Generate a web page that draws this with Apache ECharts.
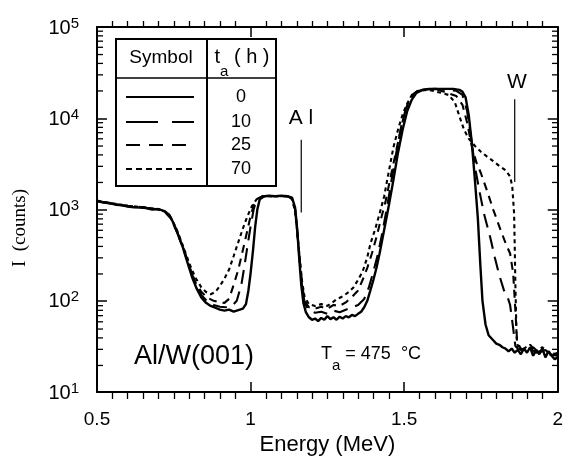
<!DOCTYPE html>
<html>
<head>
<meta charset="utf-8">
<script src="https://cdn.jsdelivr.net/npm/echarts@6/dist/echarts.min.js"></script>
<style>
  html, body { margin: 0; padding: 0; background: #ffffff; }
  #chart, #ticks { width: 566px; height: 461px; position: absolute; left: 0; top: 0; }
  #ticks { pointer-events: none; }
</style>
</head>
<body>
<div id="chart"></div>
<div id="ticks"></div>
<script>
// axis ticks
const xTicks = [0.5, 1, 1.5, 2]
const xTickLabels = ['0.5', '1', '1.5', '2']
const yExponents = [1, 2, 3, 4, 5]
const yMinorMultipliers = [2, 3, 4, 5, 6, 7, 8, 9]

// t_a = 0 h (solid)
const energy0 = [0.5, 0.52, 0.54, 0.56, 0.58, 0.6, 0.62, 0.64, 0.66, 0.68, 0.7, 0.72, 0.735, 0.75, 0.765, 0.78, 0.795, 0.81, 0.825, 0.84, 0.855, 0.87, 0.885, 0.9, 0.915, 0.93, 0.945, 0.96, 0.975, 0.985, 0.993, 1.0, 1.008, 1.015, 1.022, 1.03, 1.045, 1.06, 1.08, 1.1, 1.12, 1.135, 1.145, 1.152, 1.158, 1.165, 1.172, 1.18, 1.19, 1.2, 1.21, 1.22, 1.23, 1.24, 1.25, 1.26, 1.27, 1.28, 1.29, 1.3, 1.31, 1.32, 1.33, 1.34, 1.35, 1.36, 1.37, 1.38, 1.39, 1.4, 1.41, 1.42, 1.435, 1.45, 1.465, 1.48, 1.495, 1.51, 1.525, 1.54, 1.56, 1.58, 1.6, 1.62, 1.64, 1.66, 1.68, 1.69, 1.7, 1.71, 1.72, 1.73, 1.74, 1.748, 1.755, 1.765, 1.775, 1.79, 1.8, 1.81, 1.82, 1.83, 1.84, 1.85, 1.86, 1.87, 1.88, 1.89, 1.9, 1.91, 1.92, 1.93, 1.94, 1.95, 1.96, 1.97, 1.98, 1.99, 2.0]
const counts0 = [1250, 1200, 1180, 1130, 1120, 1080, 1060, 1050, 1040, 1000, 1010, 960, 880, 700, 520, 380, 260, 180, 135, 108, 95, 88, 84, 80, 78, 80, 76, 79, 82, 92, 130, 200, 360, 650, 1000, 1300, 1400, 1420, 1400, 1420, 1400, 1350, 1050, 600, 300, 150, 95, 75, 66, 62, 64, 60, 65, 62, 68, 63, 66, 62, 67, 64, 68, 66, 70, 68, 72, 76, 85, 100, 130, 170, 230, 330, 600, 1100, 2100, 4200, 7500, 12000, 16000, 19000, 20500, 21000, 21000, 21000, 21000, 21000, 20500, 19500, 17000, 11000, 5500, 2200, 800, 250, 100, 55, 42, 37, 34, 33, 31, 30, 28, 30, 27, 29, 26, 30, 27, 31, 25, 29, 26, 30, 24, 28, 25, 23, 24]

// t_a = 10 h (long dash)
const energy10 = [0.5, 0.55, 0.6, 0.65, 0.7, 0.72, 0.74, 0.76, 0.78, 0.8, 0.82, 0.84, 0.86, 0.88, 0.9, 0.92, 0.94, 0.955, 0.97, 0.98, 0.99, 1.0, 1.01, 1.02, 1.04, 1.08, 1.12, 1.135, 1.145, 1.152, 1.16, 1.168, 1.176, 1.19, 1.21, 1.23, 1.25, 1.27, 1.29, 1.31, 1.33, 1.35, 1.37, 1.385, 1.4, 1.415, 1.43, 1.445, 1.46, 1.475, 1.49, 1.505, 1.52, 1.54, 1.56, 1.6, 1.64, 1.67, 1.69, 1.705, 1.72, 1.73, 1.745, 1.76, 1.78, 1.795, 1.81, 1.825, 1.835, 1.845, 1.855, 1.862, 1.87, 1.89, 1.91, 1.93, 1.95, 1.97, 2.0]
const counts10 = [1230, 1150, 1090, 1050, 1000, 950, 820, 580, 390, 240, 155, 115, 98, 90, 86, 85, 88, 100, 150, 240, 400, 650, 1000, 1300, 1400, 1400, 1400, 1330, 1000, 580, 280, 140, 95, 78, 74, 76, 72, 78, 75, 80, 84, 90, 105, 140, 210, 330, 580, 1100, 2200, 4300, 8000, 12500, 16500, 19500, 20500, 21000, 20500, 20000, 18000, 12000, 5500, 3000, 1600, 900, 500, 300, 190, 130, 115, 90, 50, 32, 30, 28, 30, 27, 29, 26, 25]

// t_a = 25 h (medium dash)
const energy25 = [0.5, 0.55, 0.6, 0.65, 0.7, 0.72, 0.74, 0.76, 0.78, 0.8, 0.82, 0.84, 0.86, 0.88, 0.9, 0.915, 0.93, 0.945, 0.96, 0.975, 0.99, 1.0, 1.01, 1.02, 1.04, 1.12, 1.135, 1.145, 1.152, 1.16, 1.168, 1.176, 1.19, 1.21, 1.23, 1.25, 1.27, 1.29, 1.31, 1.33, 1.35, 1.365, 1.38, 1.395, 1.41, 1.425, 1.44, 1.455, 1.47, 1.485, 1.5, 1.515, 1.53, 1.55, 1.6, 1.63, 1.65, 1.67, 1.69, 1.705, 1.72, 1.735, 1.75, 1.77, 1.79, 1.81, 1.83, 1.845, 1.855, 1.862, 1.868, 1.88, 1.9, 1.92, 1.94, 1.96, 1.98, 2.0]
const counts25 = [1240, 1160, 1100, 1060, 1000, 950, 800, 570, 380, 240, 160, 125, 108, 100, 96, 95, 105, 150, 220, 360, 600, 850, 1100, 1300, 1400, 1400, 1320, 1000, 580, 280, 150, 100, 85, 82, 86, 82, 90, 88, 96, 110, 130, 170, 230, 330, 500, 800, 1250, 2200, 3800, 6500, 11000, 15500, 18500, 20500, 21000, 19500, 18500, 17500, 14000, 9000, 5000, 3300, 2500, 1600, 1000, 650, 430, 330, 200, 80, 35, 30, 28, 31, 27, 29, 25, 27]

// t_a = 70 h (short dash)
const energy70 = [0.5, 0.55, 0.6, 0.65, 0.7, 0.72, 0.74, 0.76, 0.78, 0.8, 0.82, 0.84, 0.855, 0.87, 0.885, 0.9, 0.915, 0.93, 0.945, 0.96, 0.975, 0.99, 1.005, 1.02, 1.04, 1.12, 1.135, 1.145, 1.152, 1.16, 1.168, 1.176, 1.19, 1.21, 1.23, 1.25, 1.27, 1.28, 1.3, 1.32, 1.335, 1.35, 1.365, 1.38, 1.39, 1.405, 1.42, 1.435, 1.45, 1.465, 1.48, 1.495, 1.51, 1.525, 1.545, 1.58, 1.62, 1.645, 1.665, 1.68, 1.695, 1.71, 1.73, 1.75, 1.77, 1.79, 1.81, 1.83, 1.845, 1.852, 1.858, 1.86, 1.862, 1.864, 1.866, 1.87, 1.89, 1.91, 1.93, 1.95, 1.97, 2.0]
const counts70 = [1250, 1170, 1100, 1060, 1010, 960, 820, 600, 400, 260, 180, 140, 125, 118, 125, 145, 175, 220, 310, 440, 620, 850, 1100, 1300, 1400, 1400, 1300, 950, 560, 290, 160, 110, 92, 88, 92, 88, 98, 104, 112, 125, 140, 170, 210, 300, 420, 600, 900, 1400, 2600, 4800, 7500, 11000, 14500, 18000, 20000, 20500, 19000, 18000, 15000, 10500, 7500, 6000, 5000, 4300, 3800, 3400, 3000, 2700, 2300, 1800, 900, 400, 160, 80, 40, 32, 30, 33, 28, 31, 27, 26]

// element edge markers
const alMarker = [[1.165, 5800], [1.165, 930]]
const wMarker = [[1.86, 16200], [1.86, 2000]]

const zip = (xs, ys) => xs.map((x, i) => [x, ys[i]])

const font = 'Liberation Sans, Arial, Helvetica, sans-serif'
const serif = 'Liberation Serif, Times New Roman, serif'
const grid = { left: 97, right: 8, top: 27, bottom: 68 }

const baseX = {
  type: 'value',
  min: 0.5,
  max: 2,
  interval: 0.5,
  axisLine: { lineStyle: { color: '#000', width: 2 } },
  axisTick: { inside: true, length: 10, lineStyle: { color: '#000', width: 1.5 } },
  splitLine: { show: false },
}

const baseY = {
  type: 'log',
  logBase: 10,
  min: 10,
  max: 100000,
  axisLine: { lineStyle: { color: '#000', width: 2 } },
  axisTick: { inside: true, length: 10, lineStyle: { color: '#000', width: 1.5 } },
  splitLine: { show: false },
}

function lineSeries(name, xs, ys, dash, width) {
  return {
    name,
    type: 'line',
    data: zip(xs, ys),
    showSymbol: false,
    lineStyle: { color: '#000', width, type: dash },
  }
}

function markerSeries(data) {
  return {
    type: 'line',
    data,
    showSymbol: false,
    lineStyle: { color: '#000', width: 1.2 },
  }
}

const legendRows = [
  { label: '0', dash: null, y: 97 },
  { label: '10', dash: [32, 14], y: 122 },
  { label: '25', dash: [14, 9], y: 145 },
  { label: '70', dash: [6, 4], y: 169 },
]

const graphic = [
  { type: 'rect', shape: { x: 116, y: 39, width: 160, height: 147 }, style: { fill: '#fff', stroke: '#000', lineWidth: 2 }, z: 10 },
  { type: 'line', shape: { x1: 207, y1: 39, x2: 207, y2: 186 }, style: { stroke: '#000', lineWidth: 2 }, z: 11 },
  { type: 'line', shape: { x1: 116, y1: 78, x2: 276, y2: 78 }, style: { stroke: '#000', lineWidth: 1.5 }, z: 11 },
  { type: 'text', x: 161, y: 58, style: { text: 'Symbol', font: '19px ' + font, fill: '#000', align: 'center', verticalAlign: 'middle' }, z: 11 },
  {
    type: 'text', x: 242, y: 63, z: 11,
    style: {
      text: '{t|t}{s|a}{t| ( h )}', align: 'center', verticalAlign: 'middle',
      rich: {
        t: { fontFamily: font, fontSize: 20, lineHeight: 32, verticalAlign: 'top', fill: '#000' },
        s: { fontFamily: font, fontSize: 15, lineHeight: 32, verticalAlign: 'bottom', fill: '#000' },
      },
    },
  },
  { type: 'text', x: 301, y: 118, style: { text: 'A l', font: '21px ' + font, fill: '#000', align: 'center', verticalAlign: 'middle' } },
  { type: 'text', x: 517, y: 82, style: { text: 'W', font: '21px ' + font, fill: '#000', align: 'center', verticalAlign: 'middle' } },
  { type: 'text', x: 194, y: 357, style: { text: 'Al/W(001)', font: '27px ' + font, fill: '#000', align: 'center', verticalAlign: 'middle' } },
  {
    type: 'text', x: 321, y: 359,
    style: {
      text: '{t|T}{s|a}{t| = 475  °C}', verticalAlign: 'middle',
      rich: {
        t: { fontFamily: font, fontSize: 18, lineHeight: 28, verticalAlign: 'top', fill: '#000' },
        s: { fontFamily: font, fontSize: 15, lineHeight: 28, verticalAlign: 'bottom', fill: '#000' },
      },
    },
  },
  { type: 'text', x: 20, y: 228, rotation: Math.PI / 2, style: { text: 'I  (counts)', font: '19px ' + serif, fill: '#000', align: 'center', verticalAlign: 'middle' } },
]
legendRows.forEach((row) => {
  const style = { stroke: '#000', lineWidth: 2 }
  if (row.dash) style.lineDash = row.dash
  graphic.push({ type: 'line', shape: { x1: 126, y1: row.y, x2: 194, y2: row.y }, style, z: 11 })
  graphic.push({ type: 'text', x: 241, y: row.y, style: { text: row.label, font: '18px ' + font, fill: '#000', align: 'center', verticalAlign: 'middle' }, z: 11 })
})

const chart = echarts.init(document.getElementById('chart'))
chart.setOption({
  animation: false,
  grid,
  xAxis: [
    {
      ...baseX,
      position: 'bottom',
      name: 'Energy (MeV)',
      nameLocation: 'middle',
      nameGap: 40,
      nameTextStyle: { fontFamily: font, fontSize: 22, color: '#000' },
      axisLabel: {
        margin: 18,
        fontFamily: font,
        fontSize: 19,
        color: '#000',
        formatter: (v) => {
          const i = xTicks.findIndex((t) => Math.abs(t - v) < 1e-9)
          return i >= 0 ? xTickLabels[i] : ''
        },
      },
    },
    { ...baseX, position: 'top', axisLabel: { show: false } },
  ],
  yAxis: [
    {
      ...baseY,
      position: 'left',
      axisLabel: {
        margin: 18,
        formatter: (v) => {
          const e = Math.round(Math.log10(v))
          return yExponents.includes(e) ? '{b|10}{e|' + e + '}' : ''
        },
        rich: {
          b: { fontFamily: font, fontSize: 20, lineHeight: 22, verticalAlign: 'bottom', color: '#000', padding: [12, 0, 0, 0] },
          e: { fontFamily: font, fontSize: 15, lineHeight: 16, verticalAlign: 'top', color: '#000', padding: [0, 0, 16, 0] },
        },
      },
    },
    { ...baseY, position: 'right', axisLabel: { show: false } },
  ],
  graphic,
  series: [
    markerSeries(alMarker),
    markerSeries(wMarker),
    lineSeries('0 h', energy0, counts0, 'solid', 2.4),
    lineSeries('10 h', energy10, counts10, [14, 8], 2.1),
    lineSeries('25 h', energy25, counts25, [8, 6], 2.1),
    lineSeries('70 h', energy70, counts70, [4, 3.5], 2.1),
  ],
})

// minor ticks on a transparent overlay chart with the same grid and scales
const yMinorTicks = []
yExponents.slice(0, -1).forEach((e) => {
  yMinorMultipliers.forEach((m) => yMinorTicks.push([0.5, m * Math.pow(10, e)]))
})

const tickX = {
  ...baseX,
  axisLine: { show: false },
  axisTick: { show: false },
  axisLabel: { show: false },
  minorTick: { show: true, splitNumber: 10, length: 6, lineStyle: { color: '#000', width: 1.3 } },
}
const tickY = { ...baseY, axisLine: { show: false }, axisTick: { show: false }, axisLabel: { show: false } }

const ticks = echarts.init(document.getElementById('ticks'))
ticks.setOption({
  animation: false,
  grid,
  xAxis: [{ ...tickX, position: 'bottom' }, { ...tickX, position: 'top' }],
  yAxis: [{ ...tickY, position: 'left' }, { ...tickY, position: 'right' }],
  series: [{
    type: 'custom',
    data: yMinorTicks,
    encode: { x: 0, y: 1 },
    renderItem(params, api) {
      const l = api.coord([0.5, api.value(1)])
      const r = api.coord([2, api.value(1)])
      return {
        type: 'group',
        children: [
          { type: 'line', shape: { x1: l[0], y1: l[1], x2: l[0] + 6, y2: l[1] }, style: { stroke: '#000', lineWidth: 1.3 } },
          { type: 'line', shape: { x1: r[0], y1: r[1], x2: r[0] - 6, y2: r[1] }, style: { stroke: '#000', lineWidth: 1.3 } },
        ],
      }
    },
  }],
})
</script>
</body>
</html>
